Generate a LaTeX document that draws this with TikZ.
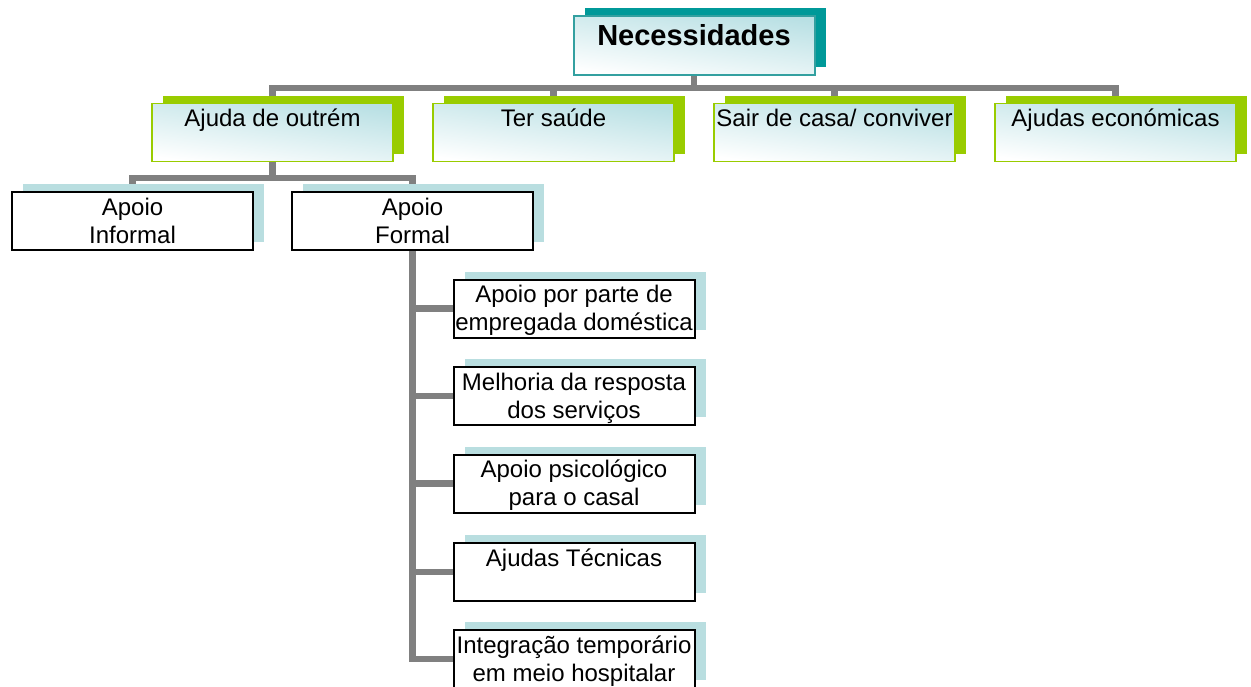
\documentclass[tikz,border=0pt]{standalone}
\usepackage{fontspec}
\setmainfont{Liberation Sans}
\usetikzlibrary{shadows,backgrounds}

\begin{document}
\begin{tikzpicture}[
  x=0.5pt, y=-0.5pt,
  font=\fontsize{12}{14}\selectfont,
  box/.style={rectangle,minimum width=120.5pt,minimum height=29pt,inner sep=0pt,
    align=center,text height=11.5pt,text depth=17.5pt},
  twoline/.style={text height=25.5pt,text depth=3.5pt},
  rootbox/.style={box,minimum height=29.5pt,text height=14.5pt,text depth=15pt,
    font=\fontsize{14.5}{17}\selectfont\bfseries,draw=rootedge,line width=1pt,
    top color=tint,bottom color=white,shading angle=-8,
    general shadow={fill=rootshade,shadow xshift=5.5pt,shadow yshift=4pt}},
  needbox/.style={box,draw=lime,line width=0.8pt,
    top color=tint,bottom color=white,shading angle=-8,
    general shadow={fill=lime,shadow xshift=5.5pt,shadow yshift=4pt}},
  supportbox/.style={box,draw=black,line width=1pt,fill=white,
    general shadow={fill=paleshade,shadow xshift=5.5pt,shadow yshift=4pt}},
  link/.style={draw=linkgray,line width=3.3pt}
]
\definecolor{rootedge}{RGB}{51,160,160}
\definecolor{rootshade}{RGB}{0,153,153}
\definecolor{lime}{RGB}{153,204,0}
\definecolor{tint}{RGB}{185,224,228}
\definecolor{paleshade}{RGB}{185,222,224}
\definecolor{linkgray}{RGB}{128,128,128}

\useasboundingbox (0,0) rectangle (1251,686);

% Root of the tree.
\node[rootbox] (necess) at (694,45.5) {Necessidades};

% First level of needs.
\node[needbox] (ajuda) at (272.5,132.5) {Ajuda de outrém};
\node[needbox] (saude) at (553.5,132.5) {Ter saúde};
\node[needbox] (sair) at (834.5,132.5) {Sair de casa/ conviver};
\node[needbox] (economicas) at (1115.5,132.5) {Ajudas económicas};

% Kinds of support.
\node[supportbox,twoline] (informal) at (132.5,221) {Apoio\\Informal};
\node[supportbox,twoline] (formal) at (412.5,221) {Apoio\\Formal};

% Formal support, listed downwards.
\node[supportbox,twoline] (domestica) at (574,308.5) {Apoio por parte de\\empregada doméstica};
\node[supportbox,twoline] (servicos) at (574,396) {Melhoria da resposta\\dos serviços};
\node[supportbox,twoline] (psico) at (574,483.5) {Apoio psicológico\\para o casal};
\node[supportbox] (tecnicas) at (574,572) {Ajudas Técnicas};
\node[supportbox,twoline] (hospital) at (574,659) {Integração temporário\\em meio hospitalar};

% Connectors sit behind the boxes and their shadows.
\coordinate (bus) at (694,88);
\coordinate (subbus) at (272.5,178);
\begin{scope}[on background layer]
  \draw[link] (necess.south) -- (bus) -| (ajuda.north);
  \draw[link] (bus) -| (saude.north);
  \draw[link] (bus) -| (sair.north);
  \draw[link] (bus) -| (economicas.north);
  \draw[link] (ajuda.south) -- (subbus) -| (informal.north);
  \draw[link] (subbus) -| (formal.north);
  \draw[link] (formal.south) |- (domestica.west);
  \draw[link] (formal.south) |- (servicos.west);
  \draw[link] (formal.south) |- (psico.west);
  \draw[link] (formal.south) |- (tecnicas.west);
  \draw[link] (formal.south) |- (hospital.west);
\end{scope}
\end{tikzpicture}
\end{document}
